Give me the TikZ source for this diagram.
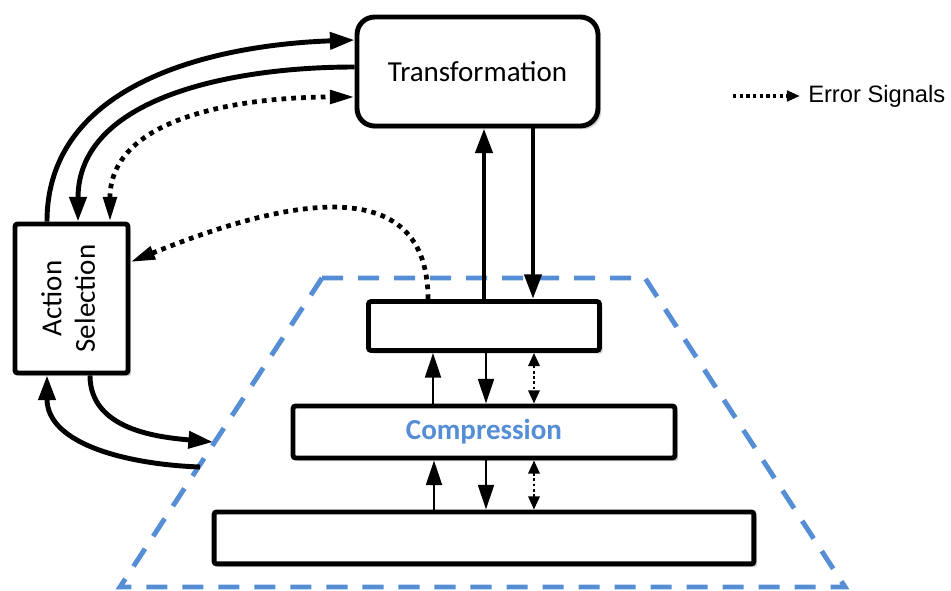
\documentclass[tikz,border=0pt]{standalone}
\usepackage{fontspec}
\usepackage{graphicx}
\newfontfamily\calibri{Carlito}
\newfontfamily\arial{Liberation Sans}
\usepackage{tikz}
\usetikzlibrary{positioning, arrows.meta, shadows}
\definecolor{compblue}{RGB}{85,142,213}
\tikzstyle{box} = [rectangle, draw=black, line width=2.8pt, fill=white, rounded corners=1.5pt, drop shadow={opacity=0.35, shadow xshift=1.8pt, shadow yshift=-1.8pt}, font=\calibri\fontsize{16.5}{19}\selectfont]
\tikzstyle{bigarrow} = [line width=2.8pt, -{Triangle[length=14pt,width=9.5pt]}]
\tikzstyle{thinarrow} = [line width=1.4pt, -{Triangle[length=14pt,width=9pt]}]
\tikzstyle{error} = [line width=2.7pt, dash pattern=on 2.7pt off 2.9pt, -{Triangle[length=14pt,width=7.5pt]}]
\tikzstyle{twoerror} = [line width=2.7pt, dash pattern=on 2.7pt off 2.9pt, {Triangle[length=14pt,width=7.5pt]}-{Triangle[length=14pt,width=7.5pt]}]
\tikzstyle{smallerror} = [line width=1.2pt, dash pattern=on 1.5pt off 1.5pt, {Triangle[length=7.5pt,width=6.5pt]}-{Triangle[length=7.5pt,width=6.5pt]}]
\tikzstyle{pyramid} = [draw=compblue, line width=2.8pt, dash pattern=on 12pt off 8.5pt]

\begin{document}
\begin{tikzpicture}[x=0.02cm, y=-0.02cm, node distance=2.12cm]
    \useasboundingbox (0,0) rectangle (951,591);
    % dashed outline round the layers
    \draw[pyramid] (322,278) -- (645,278) -- (845,587) -- (120,587) -- cycle;

    \node (trans) [box, rounded corners=10pt, minimum width=4.82cm, minimum height=2.18cm] at (477.5,71.5) {Transformation};
    \node (act) [box, minimum width=2.26cm, minimum height=2.98cm] at (71.5,298.5) {\rotatebox{90}{\begin{tabular}{@{}c@{}}Action\\Selection\end{tabular}}};
    \node (layer1) [box, minimum width=4.62cm, minimum height=0.98cm] at (484,326) {};
    \node (layer2) [box, below of=layer1, minimum width=7.64cm, minimum height=1.04cm, text=compblue, font=\calibri\bfseries\fontsize{16.5}{19}\selectfont] {Compression};
    \node (layer3) [box, below of=layer2, minimum width=10.8cm, minimum height=1.04cm] {};

    % legend
    \node (legend) [anchor=west, inner sep=4.5pt, font=\arial\fontsize{13.5}{16}\selectfont] at (800,96) {Error Signals};
    \coordinate (legstart) at (733,96);
    \draw[line width=1.8pt, dash pattern=on 1.8pt off 2pt, -{Triangle[length=7.5pt,width=6pt]}] (legstart) -- (legend.west);

    % action selection <-> transformation
    \draw[bigarrow] ([xshift=-0.49cm]act.north) to[out=90, in=182] ([yshift=0.63cm]trans.west);
    \draw[bigarrow] ([yshift=0.09cm]trans.west) to[out=180, in=90] ([xshift=0.13cm]act.north);
    \draw[twoerror] ([xshift=0.77cm]act.north) to[out=90, in=180] ([yshift=-0.51cm]trans.west);

    % transformation <-> top layer
    \draw[bigarrow] (layer1.north) -- (layer1.north |- trans.south);
    \coordinate (down1) at ([xshift=0.98cm]layer1.north);
    \draw[bigarrow] (down1 |- trans.south) -- (down1);
    \draw[error] ([xshift=-1.12cm]layer1.north) to[out=90, in=22, looseness=1.2] ([yshift=0.73cm]act.east);

    % between the layers
    \draw[thinarrow] ([xshift=-1.02cm]layer2.north) -- ([xshift=-1.02cm]layer1.south);
    \draw[thinarrow] ([xshift=0.04cm]layer1.south) -- ([xshift=0.04cm]layer2.north);
    \draw[smallerror] ([xshift=1cm]layer1.south) -- ([xshift=1cm]layer2.north);
    \draw[thinarrow] ([xshift=-1cm]layer3.north) -- ([xshift=-1cm]layer2.south);
    \draw[thinarrow] ([xshift=0.04cm]layer2.south) -- ([xshift=0.04cm]layer3.north);
    \draw[smallerror] ([xshift=1cm]layer2.south) -- ([xshift=1cm]layer3.north);

    % action selection <-> compression
    \coordinate (into) at (213,442);
    \coordinate (outof) at (200,467);
    \draw[bigarrow] ([xshift=0.37cm]act.south) to[out=-90, in=175] (into);
    \draw[bigarrow] (outof) to[out=178, in=-90] ([xshift=-0.49cm]act.south);
\end{tikzpicture}
\end{document}
